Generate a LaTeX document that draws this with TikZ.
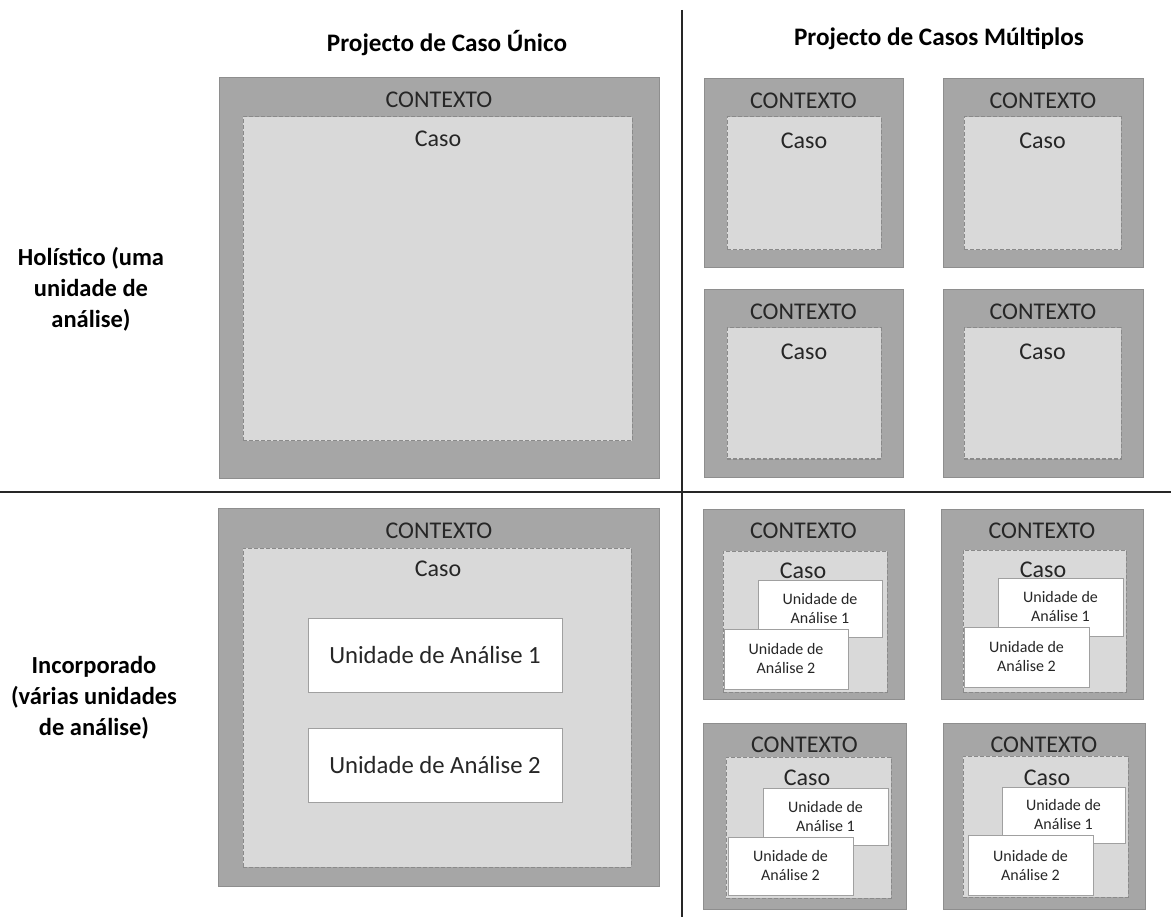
\documentclass[tikz,border=0pt]{standalone}
\usepackage{fontspec}
\setmainfont{Carlito}
\usetikzlibrary{fit,calc}
\definecolor{ctxfill}{HTML}{A6A6A6}
\definecolor{ctxline}{HTML}{8E8E8E}
\definecolor{casefill}{HTML}{D9D9D9}
\definecolor{caseline}{HTML}{8A8A8A}
\definecolor{unitline}{HTML}{A0A0A0}
\definecolor{txt}{HTML}{262626}
\tikzset{
  ctxbox/.style={fit={#1}, inner sep=0pt, outer sep=0pt, draw=ctxline, fill=ctxfill, line width=1pt},
  casebox/.style={fit={#1}, inner sep=0pt, outer sep=0pt, draw=caseline, fill=casefill, line width=1pt, dash pattern=on 4pt off 2pt},
  unitbox/.style={fit={#1}, inner sep=0pt, outer sep=0pt, draw=unitline, fill=white, line width=1pt},
  bigtxt/.style={text=txt, font=\fontsize{24}{29}\selectfont, inner sep=0pt},
  unittxt/.style={text=txt, font=\fontsize{24.7}{30}\selectfont, inner sep=0pt},
  smalltxt/.style={text=txt, font=\fontsize{16}{19}\selectfont, align=center, inner sep=0pt},
  headtxt/.style={text=black, font=\fontsize{25.2}{31}\selectfont\bfseries, align=center, inner sep=0pt},
  rowtxt/.style={text=black, font=\fontsize{24.5}{31}\selectfont\bfseries, align=center, inner sep=0pt},
  divider/.style={draw=black!85, line width=1.3pt},
}
\begin{document}
\begin{tikzpicture}[x=1pt,y=-1pt]
\useasboundingbox (0,0) rectangle (1171,917);

% headings
\node[headtxt] (hsingle) at (447,43) {Projecto de Caso Único};
\node[headtxt] (hmulti) at (939,39) {Projecto de Casos Múltiplos};
\node[rowtxt] (rholist) at (91,289) {Holístico (uma\\unidade de\\análise)};
\node[rowtxt] (rembed) at (94,698) {Incorporado\\(várias unidades\\de análise)};

% dividing lines
\coordinate (vtop) at (682,10);
\coordinate (vbot) at (682,917);
\coordinate (hleft) at (0,492);
\coordinate (hright) at (1171,492);
\draw[divider] (vtop) -- (vbot);
\draw[divider] (hleft) -- (hright);

% single case, holistic
\node[ctxbox={(219,78) (659,478)}] (sh) {};
\node[casebox={(243,117) (632,441)}] (shc) {};
\node[bigtxt] at (439,100) {CONTEXTO};
\node[bigtxt] at (438,139) {Caso};

% single case, embedded
\node[ctxbox={(218,508) (659,886)}] (se) {};
\node[casebox={(243,548) (631,867)}] (sec) {};
\node[bigtxt] at (439,531) {CONTEXTO};
\node[bigtxt] at (438,569) {Caso};
\node[unitbox={(308,618) (562,692)}] (seu1) {};
\node[unitbox={(308,728) (562,802)}] (seu2) {};
\node[unittxt] at (seu1.center) {Unidade de Análise 1};
\node[unittxt] at (seu2.center) {Unidade de Análise 2};

% multiple cases, holistic
\foreach \nm/\xa/\ya/\xb/\yb/\ia/\ja/\ib/\jb in {
  m1/704/79/903/268/727/117/881/250,
  m2/943/79/1143/268/964/117/1121/250,
  m3/704/290/903/477/727/328/881/459,
  m4/943/290/1143/477/964/328/1121/459}{
  \node[ctxbox={(\xa,\ya) (\xb,\yb)}] (\nm) {};
  \node[casebox={(\ia,\ja) (\ib,\jb)}] (\nm c) {};
  \node[bigtxt] at ($(\nm.north)+(0,22)$) {CONTEXTO};
  \node[bigtxt] at ($(\nm c.north)+(0,24)$) {Caso};
}

% multiple cases, embedded
\foreach \nm/\xa/\ya/\xb/\yb/\ia/\ja/\ib/\jb/\cx/\cy/\ua/\va/\ub/\vb/\pa/\qa/\pb/\qb in {
  e1/703/509/904/699/723/551/887/692/803/571/758/580/882/637/724/629/848/689,
  e2/941/509/1143/699/963/550/1126/692/1043/570/998/578/1123/636/964/627/1089/687,
  e3/703/723/906/909/726/757/891/898/807/778/763/788/888/845/728/837/853/895,
  e4/943/723/1145/909/963/756/1128/897/1047/778/1002/787/1125/843/968/835/1093/895}{
  \node[ctxbox={(\xa,\ya) (\xb,\yb)}] (\nm) {};
  \node[casebox={(\ia,\ja) (\ib,\jb)}] (\nm c) {};
  \node[bigtxt] at ($(\nm.north)+(0,22)$) {CONTEXTO};
  \node[bigtxt] at (\cx,\cy) {Caso};
  \node[unitbox={(\ua,\va) (\ub,\vb)}] (\nm u1) {};
  \node[smalltxt] at (\nm u1.center) {Unidade de\\Análise 1};
  \node[unitbox={(\pa,\qa) (\pb,\qb)}] (\nm u2) {};
  \node[smalltxt] at (\nm u2.center) {Unidade de\\Análise 2};
}
\end{tikzpicture}
\end{document}
